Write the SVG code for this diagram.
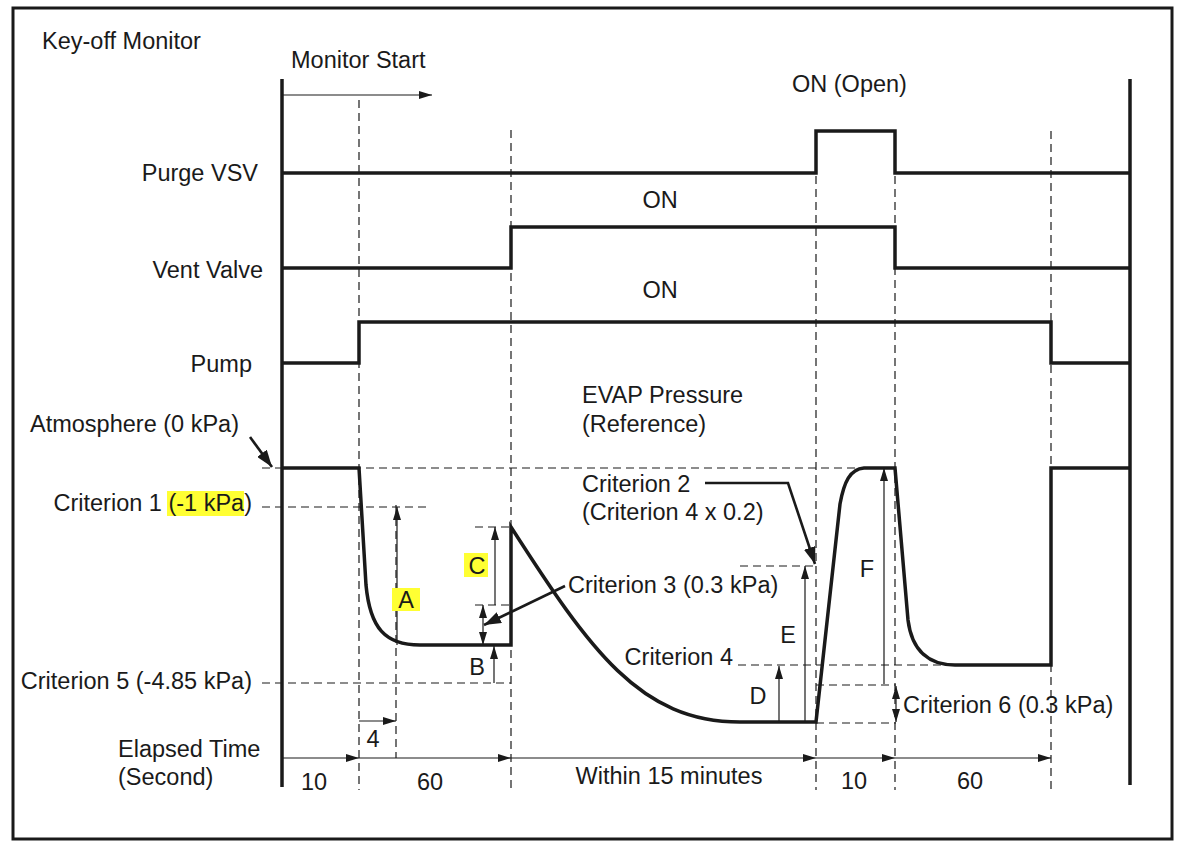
<svg xmlns="http://www.w3.org/2000/svg" width="1179" height="852" viewBox="0 0 1179 852">
<defs>
<style>
text{font-family:"Liberation Sans",Arial,sans-serif;font-size:23.5px;fill:#1a1a1a}
.sig{fill:none;stroke:#1a1a1a;stroke-width:3.5;stroke-linejoin:miter}
.axis{fill:none;stroke:#1a1a1a;stroke-width:3.5}
.dash{fill:none;stroke:#1a1a1a;stroke-width:1.2;stroke-dasharray:8 5}
.thin{fill:none;stroke:#1a1a1a;stroke-width:1.2}
.lead{fill:none;stroke:#1a1a1a;stroke-width:2.6}
.hl{fill:#ffff33}
</style>
<marker id="ah" markerUnits="userSpaceOnUse" markerWidth="14" markerHeight="10" refX="13" refY="4" orient="auto-start-reverse" viewBox="0 0 14 8">
<path d="M0,0 L13,4 L0,8 z" fill="#1a1a1a"/>
</marker>
<marker id="ahb" markerUnits="userSpaceOnUse" markerWidth="18" markerHeight="12" refX="17" refY="6" orient="auto" viewBox="0 0 18 12">
<path d="M0,0 L17,6 L0,12 z" fill="#1a1a1a"/>
</marker>
</defs>
<rect width="1179" height="852" fill="#fff"/>
<rect id="frame" x="13" y="8" width="1159" height="831" fill="none" stroke="#1a1a1a" stroke-width="3"/>

<g id="axes">
<line class="axis" x1="282" y1="79" x2="282" y2="787"/>
<line class="axis" x1="1130" y1="79" x2="1130" y2="785"/>
</g>

<g id="connectors">
<line class="dash" x1="359" y1="100" x2="359" y2="790"/>
<line class="dash" x1="396" y1="505" x2="396" y2="758"/>
<line class="dash" x1="511" y1="130" x2="511" y2="790"/>
<line class="dash" x1="816" y1="176" x2="816" y2="790"/>
<line class="dash" x1="895" y1="176" x2="895" y2="790"/>
<line class="dash" x1="1051" y1="131" x2="1051" y2="790"/>
<line class="dash" x1="262" y1="468" x2="865" y2="468"/>
<line class="dash" x1="262" y1="507" x2="428" y2="507"/>
<line class="dash" x1="262" y1="683" x2="511" y2="683"/>
<line class="dash" x1="475" y1="527" x2="511" y2="527"/>
<line class="dash" x1="475" y1="605" x2="511" y2="605"/>
<line class="dash" x1="740" y1="566" x2="816" y2="566"/>
<line class="dash" x1="738" y1="665" x2="955" y2="665"/>
<line class="dash" x1="816" y1="685" x2="896" y2="685"/>
<line class="dash" x1="816" y1="723" x2="896" y2="723"/>
<line class="thin" x1="397" y1="645" x2="397" y2="507" marker-end="url(#ah)"/>
<line class="thin" x1="495" y1="605" x2="495" y2="527" marker-end="url(#ah)"/>
<line class="thin" x1="483" y1="605" x2="483" y2="645" marker-start="url(#ah)" marker-end="url(#ah)"/>
<line class="thin" x1="494" y1="683" x2="494" y2="646" marker-end="url(#ah)"/>
<line class="thin" x1="779" y1="722" x2="779" y2="666" marker-end="url(#ah)"/>
<line class="thin" x1="805" y1="722" x2="805" y2="566" marker-end="url(#ah)"/>
<line class="thin" x1="884" y1="684" x2="884" y2="468" marker-end="url(#ah)"/>
<line class="thin" x1="896" y1="686" x2="896" y2="722" marker-start="url(#ah)" marker-end="url(#ah)"/>
<line class="thin" x1="282" y1="95" x2="432" y2="95" marker-end="url(#ah)"/>
<line class="thin" x1="359" y1="721" x2="396" y2="721" marker-end="url(#ah)"/>
<line class="thin" x1="282" y1="758" x2="359" y2="758" marker-end="url(#ah)"/>
<line class="thin" x1="359" y1="758" x2="511" y2="758" marker-end="url(#ah)"/>
<line class="thin" x1="511" y1="758" x2="816" y2="758" marker-end="url(#ah)"/>
<line class="thin" x1="816" y1="758" x2="895" y2="758" marker-end="url(#ah)"/>
<line class="thin" x1="895" y1="758" x2="1051" y2="758" marker-end="url(#ah)"/>
<line class="lead" x1="250" y1="437" x2="272" y2="467" marker-end="url(#ahb)"/>
<polyline class="lead" points="705,483 788,483 815,564" marker-end="url(#ahb)"/>
<line class="lead" x1="565" y1="586" x2="484" y2="625" marker-end="url(#ahb)"/>
</g>

<g id="purge-vsv">
<path class="sig" d="M282 173 H816 V131 H895 V173 H1130"/>
<text x="258" y="181" text-anchor="end">Purge VSV</text>
<text x="792" y="92">ON (Open)</text>
</g>

<g id="vent-valve">
<path class="sig" d="M282 268 H511 V227 H895 V268 H1130"/>
<text x="263" y="278" text-anchor="end">Vent Valve</text>
<text x="660" y="208" text-anchor="middle">ON</text>
</g>

<g id="pump">
<path class="sig" d="M282 363 H359 V322 H1051 V363 H1130"/>
<text x="252" y="372" text-anchor="end">Pump</text>
<text x="660" y="298" text-anchor="middle">ON</text>
</g>

<g id="evap-pressure">
<path class="sig" stroke-width="3" d="M282 468 H359 L366 585 C370 628 385 645 420 645 H511 V527 C590 650 640 722 740 722 H816 L840 504 C844 482 850 469 864 468 H895 L908 620 C912 652 930 665 955 665 H1051 V468 H1130"/>
<text x="582" y="403">EVAP Pressure</text>
<text x="582" y="432">(Reference)</text>
</g>

<g id="level-labels">
<text x="30" y="432">Atmosphere (0 kPa)</text>
<rect class="hl" x="167" y="491" width="77" height="25"/>
<text x="252" y="511" text-anchor="end">Criterion 1 (-1 kPa)</text>
<text x="252" y="689" text-anchor="end">Criterion 5 (-4.85 kPa)</text>
<text x="568" y="593">Criterion 3 (0.3 kPa)</text>
<text x="582" y="492">Criterion 2</text>
<text x="582" y="520">(Criterion 4 x 0.2)</text>
<text x="733" y="665" text-anchor="end">Criterion 4</text>
<text x="903" y="713">Criterion 6 (0.3 kPa)</text>
</g>

<g id="dimension-labels">
<rect class="hl" x="392" y="588" width="28" height="23"/>
<text x="406" y="608" text-anchor="middle">A</text>
<rect class="hl" x="464" y="553" width="24" height="24"/>
<text x="477" y="574" text-anchor="middle">C</text>
<text x="477" y="675" text-anchor="middle">B</text>
<text x="758" y="704" text-anchor="middle">D</text>
<text x="788" y="643" text-anchor="middle">E</text>
<text x="867" y="577" text-anchor="middle">F</text>
</g>

<g id="titles">
<text x="42" y="49">Key-off Monitor</text>
<text x="291" y="68">Monitor Start</text>
</g>

<g id="elapsed-time">
<text x="118" y="757">Elapsed Time</text>
<text x="118" y="785">(Second)</text>
<text x="373" y="747" text-anchor="middle">4</text>
<text x="314" y="790" text-anchor="middle">10</text>
<text x="430" y="790" text-anchor="middle">60</text>
<text x="669" y="784" text-anchor="middle">Within 15 minutes</text>
<text x="854" y="789" text-anchor="middle">10</text>
<text x="970" y="789" text-anchor="middle">60</text>
</g>
</svg>
